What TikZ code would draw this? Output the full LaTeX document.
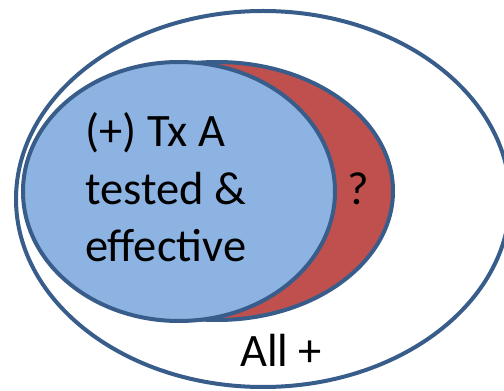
\documentclass[tikz,border=0pt]{standalone}
\usepackage{fontspec}
\setmainfont{Carlito}
\usetikzlibrary{positioning}

\definecolor{rim}{HTML}{385D8A}
\definecolor{bluefill}{HTML}{8DB3E2}
\definecolor{redfill}{HTML}{C0504D}

\begin{document}
\begin{tikzpicture}[
  x=1pt, y=1pt,
  every node/.style={font=\fontsize{46.5}{57.5}\selectfont, inner sep=0pt},
  set/.style={draw=rim, line width=4pt},
  lbl/.style={anchor=base west, align=left},
]
\useasboundingbox (0,0) rectangle (504,391);

% all positive
\draw[set, fill=white] (263,192) ellipse [x radius=247, y radius=188];
% unknown part
\draw[set, fill=redfill] (217,200) ellipse [x radius=176, y radius=129];
% tested and effective
\draw[set, fill=bluefill] (179,199.5) ellipse [x radius=156, y radius=129.5];

\node[lbl] (txa) at (85,129) {(+) Tx A\\tested \&\\effective};
\node[lbl] (unk) at (347,186) {?};
\node[lbl] (all) at (240,24) {All +};
\end{tikzpicture}
\end{document}
